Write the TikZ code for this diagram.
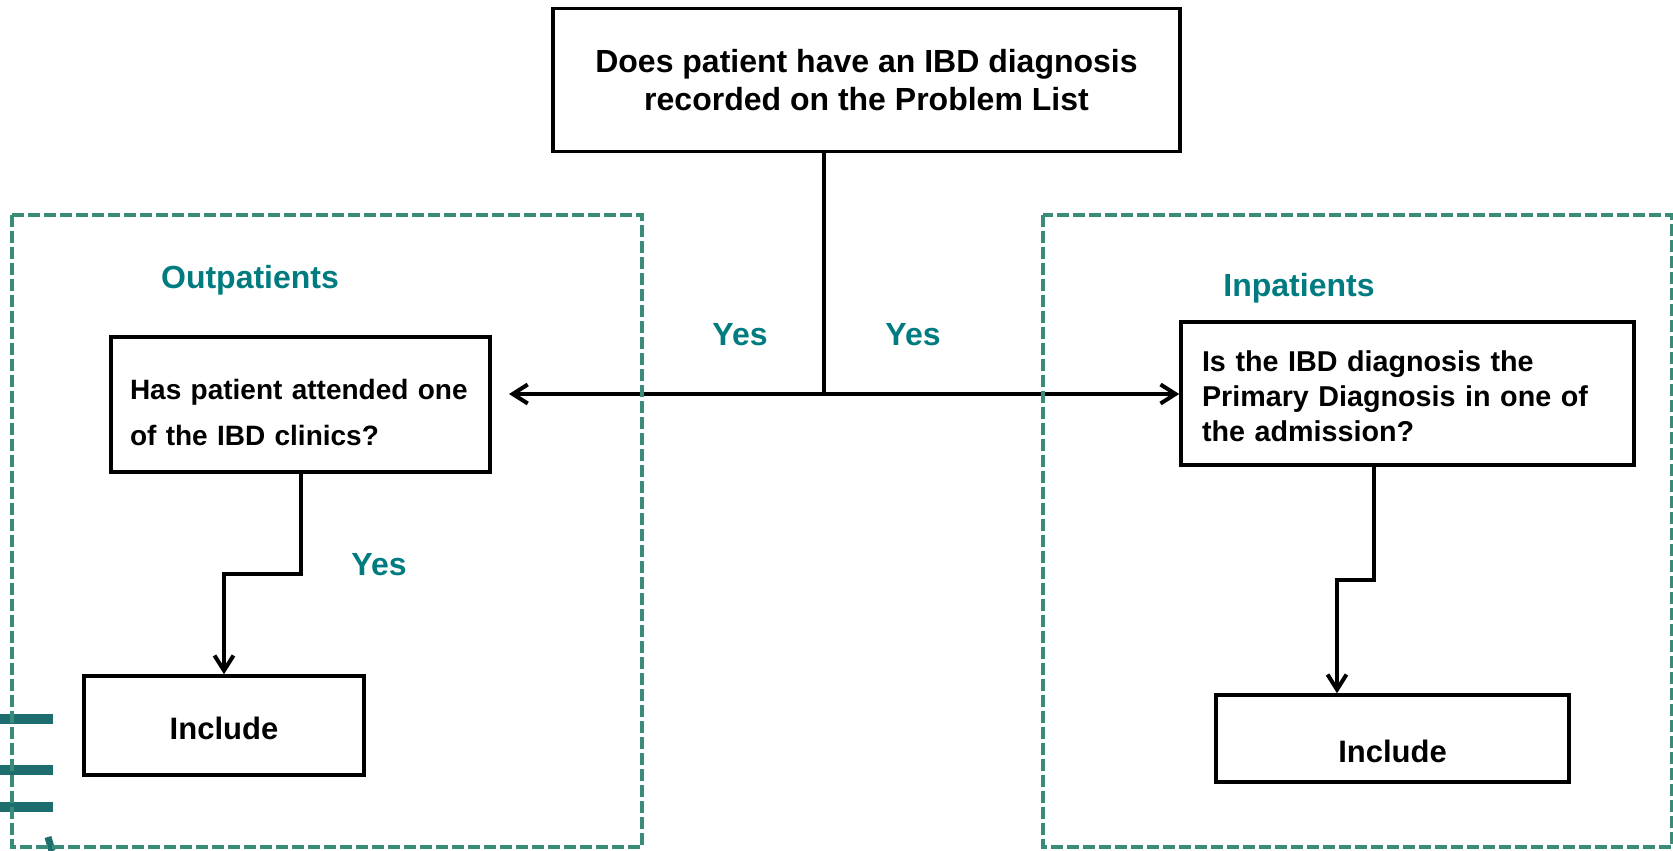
\documentclass[tikz,border=0pt]{standalone}
\usepackage{fontspec}
\setmainfont{Liberation Sans}
\usetikzlibrary{arrows.meta}
\definecolor{tealtext}{RGB}{0,124,128}
\definecolor{dashteal}{RGB}{58,140,122}
\definecolor{barteal}{RGB}{30,110,112}
\begin{document}
\begin{tikzpicture}[x=1pt,y=-1pt,
  box/.style={draw=black,line width=3.5pt,rectangle,inner sep=0pt},
  conn/.style={draw=black,line width=4pt},
  tip/.style={-{Straight Barb[length=15pt,width=19pt]}},
  grp/.style={draw=dashteal,line width=3.5pt,dash pattern=on 12pt off 4pt},
  lbl/.style={text=tealtext,font=\fontsize{32}{38}\selectfont\bfseries},
  bar/.style={draw=barteal,line width=10pt}
]
\useasboundingbox (0,0) rectangle (1673,851);
% cropped slide remnants on the left edge
\draw[bar] (0,718.5) -- (53,718.5);
\draw[bar] (0,769.5) -- (53,769.5);
\draw[bar] (0,806.5) -- (53,806.5);
\draw[barteal,line width=7pt] (48,837) -- (52,851);

% boxes
\node[box,minimum width=627pt,minimum height=143pt,align=center,
  font=\fontsize{32}{38.4}\selectfont\bfseries] (top) at (866.5,80)
  {Does patient have an IBD diagnosis\\recorded on the Problem List};
\node[box,minimum width=379pt,minimum height=135pt,text width=341pt,inner xsep=19pt,align=left,
  font=\fontsize{28}{46}\selectfont\bfseries] (oq) at (300.5,404.5)
  {\rule{0pt}{36pt}Has patient attended one\\of the IBD clinics?};
\node[box,minimum width=280pt,minimum height=99pt,text height=27pt,text depth=0pt,
  font=\fontsize{31}{37}\selectfont\bfseries] (inc1) at (224,725.5) {Include};
\node[box,minimum width=453pt,minimum height=143pt,text width=411pt,inner xsep=21pt,align=left,
  font=\fontsize{28.7}{35}\selectfont\bfseries] (rq) at (1407.5,393.5)
  {\rule{0pt}{26pt}Is the IBD diagnosis the\\Primary Diagnosis in one of\\the admission?};
\node[box,minimum width=353pt,minimum height=87pt,text height=47pt,text depth=0pt,
  font=\fontsize{31}{37}\selectfont\bfseries] (inc2) at (1392.5,738.5) {Include};

% labels
\node[lbl] (outl) at (250,280) {Outpatients};
\node[lbl] (inl) at (1299,288) {Inpatients};
\node[lbl] (yes1) at (740,335) {Yes};
\node[lbl] (yes2) at (913,335) {Yes};
\node[lbl] (yes3) at (379,565) {Yes};

% connectors
\coordinate (junc) at (824,394);
\coordinate (lend) at (509,394);
\draw[conn] (top.south -| junc) -- (junc);
\draw[conn,tip] (junc) -- (lend);
\draw[conn,tip] (junc) -- (rq.west |- junc);
\draw[conn,tip] (oq.south) -- (oq.south |- 0,574) -| (inc1.north);
\coordinate (rs) at (1374,465);
\coordinate (re) at (1337,695);
\draw[conn,tip] (rq.south -| rs) -- (rs |- 0,580) -| (re |- inc2.north);

% dashed groups
\draw[grp] (12,215) rectangle (642,847);
\draw[grp] (1043,215) rectangle (1672,847);
\end{tikzpicture}
\end{document}
